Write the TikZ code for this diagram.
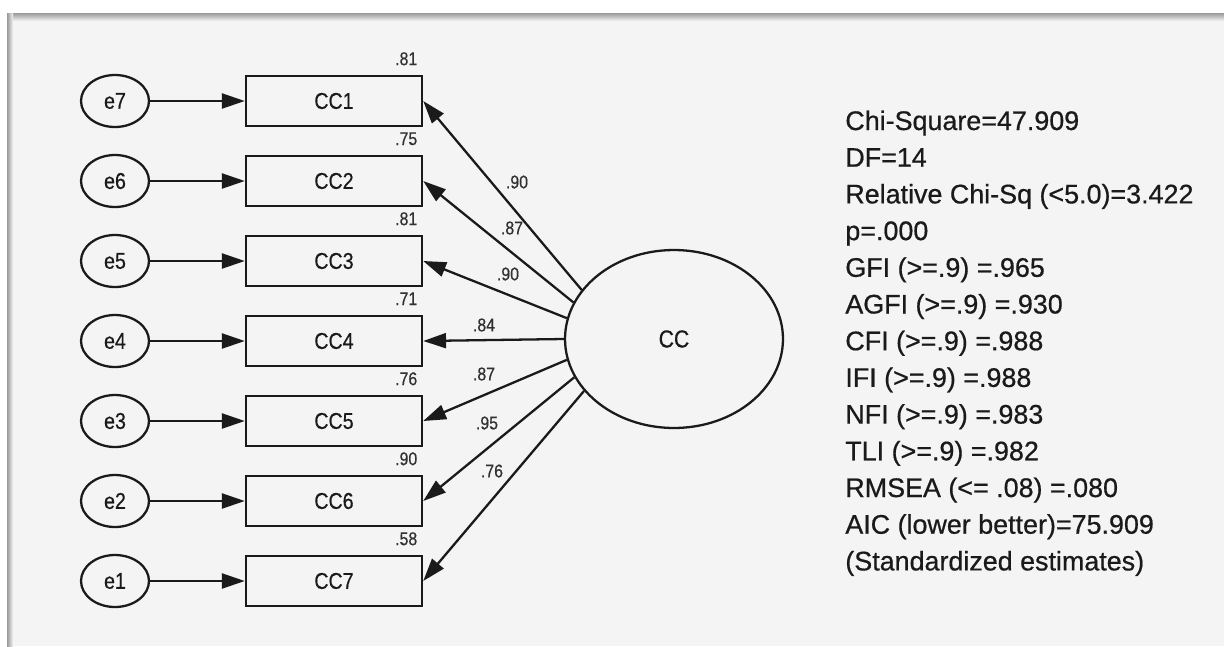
\documentclass[tikz,border=0pt]{standalone}
\usepackage{fontspec}
\setmainfont{Liberation Sans}
\newfontfamily\amosfont[FakeStretch=0.86,FakeBold=0.5]{Liberation Sans}
\newfontfamily\fitfont[FakeBold=0.6]{Liberation Sans}
\usetikzlibrary{
  shapes.geometric,
  arrows.meta,
  positioning, calc
}
\definecolor{panelbg}{HTML}{F4F4F4}
\definecolor{ink}{HTML}{1A1A1A}
\tikzset{
  errnode/.style={ellipse,draw=ink,line width=1.3pt,fill=panelbg,inner sep=0pt,
    minimum width=1.36cm,minimum height=1.04cm,text=ink,font=\amosfont\fontsize{13}{15}\selectfont},
  obsnode/.style={rectangle,draw=ink,line width=1.4pt,fill=panelbg,inner sep=0pt,
    minimum width=3.52cm,minimum height=1.0cm,text=ink,font=\amosfont\fontsize{13}{15}\selectfont},
  latnode/.style={ellipse,draw=ink,line width=1.3pt,fill=panelbg,inner sep=0pt,
    minimum width=4.36cm,minimum height=3.56cm,text=ink,font=\amosfont\fontsize{14}{16}\selectfont},
  lbl/.style={inner sep=0pt,text=ink!90,font=\amosfont\fontsize{10.5}{12}\selectfont},
  fitline/.style={inner sep=0pt,anchor=base west,text=ink,font=\fitfont\fontsize{15.3}{18}\selectfont},
  arr/.style={-{Triangle[length=13pt,width=8.5pt]},line width=1.3pt,draw=ink}
}

\begin{document}
\begin{tikzpicture}[x=0.02cm,y=-0.02cm]

  % Panel
  \useasboundingbox (0,0) rectangle (1224,646);
  \fill[white] (0,0) rectangle (1224,646);
  \fill[panelbg] (8,14) rectangle (1224,646);
  \fill[top color=gray!80,bottom color=panelbg] (8,13) rectangle (1224,21);
  \fill[left color=gray!80,right color=panelbg] (7,13) rectangle (13,646);

  % Latent factor
  \node[latnode] (cc) at (674,339) {CC};

  % Items and error terms
  \foreach \i/\e/\r in {1/7/.81, 2/6/.75, 3/5/.81, 4/4/.71, 5/3/.76, 6/2/.90, 7/1/.58}{
    \node[obsnode] (cc\i) at (334,{21+80*\i}) {CC\i};
    \node[errnode] (e\e) at (115,{21+80*\i}) {e\e};
    \node[lbl] (r\i) at ($(cc\i.north east)+(-17,-16)$) {\r};
    \draw[arr] (e\e) -- (cc\i.west);
  }

  % Loadings
  \foreach \i/\ang/\val/\lx/\ly in {1/152/.90/517/182, 2/160/.87/512/228,
      3/169/.90/508/274, 4/180/.84/484/325, 5/191/.87/484/374,
      6/201/.95/487/423, 7/210/.76/492/471}{
    \draw[arr] (cc.\ang) -- (cc\i.east);
    \node[lbl] (l\i) at (\lx,\ly) {\val};
  }

  % Fit statistics
  \foreach \t [count=\k from 0] in {{Chi-Square=47.909}, {DF=14},
      {Relative Chi-Sq (<5.0)=3.422}, {p=.000}, {GFI (>=.9) =.965},
      {AGFI (>=.9) =.930}, {CFI (>=.9) =.988}, {IFI (>=.9) =.988},
      {NFI (>=.9) =.983}, {TLI (>=.9) =.982}, {RMSEA (<= .08) =.080},
      {AIC (lower better)=75.909}, {(Standardized estimates)}}{
    \node[fitline] (fit\k) at (845,{130+36.7*\k}) {\t};
  }

\end{tikzpicture}
\end{document}
